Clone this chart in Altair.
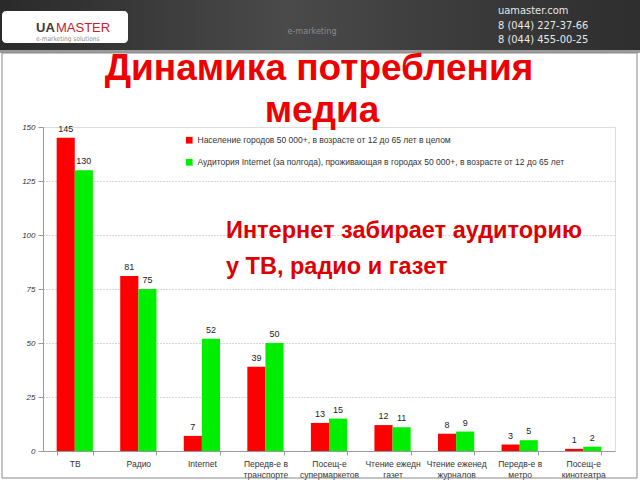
import altair as alt
import pandas as pd

categories = ["ТВ", "Радио", "Internet", "Передв-е в|транспорте", "Посещ-е|супермаркетов",
              "Чтение ежедн|газет", "Чтение еженед|журналов", "Передв-е в|метро", "Посещ-е|кинотеатра"]
series_names = ["Население городов 50 000+, в возрасте от 12 до 65 лет в целом",
                "Аудитория Internet (за полгода), проживающая в городах 50 000+, в возрасте от 12 до 65 лет"]
population = [145, 81, 7, 39, 13, 12, 8, 3, 1]
internet = [130, 75, 52, 50, 15, 11, 9, 5, 2]
y_ticks = [0, 25, 50, 75, 100, 125, 150]
colors = ["#FF0000", "#00EE00"]

rows = []
for i, c in enumerate(categories):
    rows.append({"cat": c, "series": series_names[0], "value": population[i]})
    rows.append({"cat": c, "series": series_names[1], "value": internet[i]})
df = pd.DataFrame(rows)
one = pd.DataFrame({"a": [0]})

L, T = 43, 127  # plot origin in page coords
W, H = 572, 324
NARROW = "DejaVu Sans Condensed, Liberation Sans Narrow, Liberation Sans"


def rect(x1, y1, x2, y2, **kw):
    return alt.Chart(one).mark_rect(**kw).encode(
        x=alt.value(x1 - L), x2=alt.value(x2 - L), y=alt.value(y1 - T), y2=alt.value(y2 - T))


def txt(s, X, Y, size, color, weight="normal", align="left", font="Liberation Sans", **kw):
    return alt.Chart(one).mark_text(text=s, fontSize=size, color=color, fontWeight=weight,
                                    align=align, baseline="alphabetic", font=font, **kw).encode(
        x=alt.value(X - L), y=alt.value(Y - T))


xs = alt.X("cat:N", sort=categories, title=None,
           scale=alt.Scale(paddingInner=0.43, paddingOuter=0.215),
           axis=alt.Axis(labelExpr="split(datum.label, '|')", labelAngle=0, labelFontSize=8.5,
                         labelColor="#333333", labelLineHeight=11, labelPadding=4,
                         tickBand="extent", tickSize=4, tickColor="#999999",
                         domainColor="#999999", labelFont="Liberation Sans"))
ys = alt.Y("value:Q", title=None,
           scale=alt.Scale(domain=[0, 150], nice=False),
           axis=alt.Axis(values=y_ticks, labelFontSize=8, labelFontStyle="italic",
                         labelColor="#333333", tickSize=5, tickColor="#999999",
                         domainColor="#999999", labelPadding=3,
                         grid=True, gridDash=[1, 2], gridColor="#b0b0b0",
                         gridOpacity=alt.expr("datum.value == 0 || datum.value == 150 ? 0 : 1"),
                         labelFont="Liberation Sans"))

bars = alt.Chart(df).mark_bar(strokeWidth=0.5).encode(
    x=xs, y=ys,
    xOffset=alt.XOffset("series:N", sort=series_names),
    color=alt.Color("series:N", sort=series_names,
                    scale=alt.Scale(domain=series_names, range=colors),
                    legend=alt.Legend(orient="none", legendX=142, legendY=9, title=None,
                                      symbolType="square", symbolSize=45, symbolStrokeWidth=0,
                                      labelFontSize=8.5, labelColor="#333333", labelLimit=600,
                                      rowPadding=13, labelFont="Liberation Sans")),
)

labels = alt.Chart(df).mark_text(baseline="bottom", dy=-4, fontSize=9, color="#222222",
                                 font="Liberation Sans").encode(
    x=alt.X("cat:N", sort=categories),
    xOffset=alt.XOffset("series:N", sort=series_names),
    y="value:Q",
    text="value:Q",
)

header = alt.Chart(one).mark_rect(
    color=alt.Gradient(gradient="linear", x1=0, x2=1, y1=0, y2=0,
                       stops=[alt.GradientStop(offset=0, color="#2a2a2a"),
                              alt.GradientStop(offset=0.45, color="#4a4a4a"),
                              alt.GradientStop(offset=0.7, color="#3c3c3c"),
                              alt.GradientStop(offset=1, color="#2e2e2e")])
).encode(x=alt.value(0 - L), x2=alt.value(640 - L), y=alt.value(0 - T), y2=alt.value(52 - T))

layers = [
    header,
    rect(0, 50, 640, 53, color="#9a9a9a"),
    rect(2, 53, 637, 478, fillOpacity=0, stroke="#8a8a8a", strokeWidth=1),
    rect(2, 11, 128, 43, color="white", cornerRadius=4),
    txt("UA", 36, 32, 13, "#3a3a3a", weight="bold", font="Liberation Sans"),
    txt("MASTER", 56, 32, 13, "#c8202a", font="Liberation Sans"),
    txt("e-marketing  solutions", 36, 41, 6.5, "#8a8a8a", font=NARROW),
    txt("e-marketing", 312, 34, 9, "#8a8a8a", align="center", font=NARROW),
    txt("uamaster.com", 498, 14, 11, "#e8e8e8", font=NARROW),
    txt("8 (044) 227-37-66", 498, 28.5, 11, "#e8e8e8", font=NARROW),
    txt("8 (044) 455-00-25", 498, 43, 11, "#e8e8e8", font=NARROW),
    bars,
    labels,
    txt("Динамика потребления", 319, 80, 37, "#EE0000", weight="bold", align="center"),
    txt("медиа", 322, 122, 37, "#EE0000", weight="bold", align="center"),
    txt("Интернет забирает аудиторию", 226, 238, 23.5, "#DD0000", weight="bold"),
    txt("у ТВ, радио и газет", 226, 274, 23.5, "#DD0000", weight="bold"),
]

chart = alt.layer(*layers).properties(
    width=W, height=H,
    padding={"left": L, "top": T, "right": 640 - L - W, "bottom": 480 - T - H},
    autosize=alt.AutoSizeParams(type="none"),
).configure_view(stroke=None).configure(background="white")

chart.save("out.html", embed_options={"renderer": "svg", "actions": False})
